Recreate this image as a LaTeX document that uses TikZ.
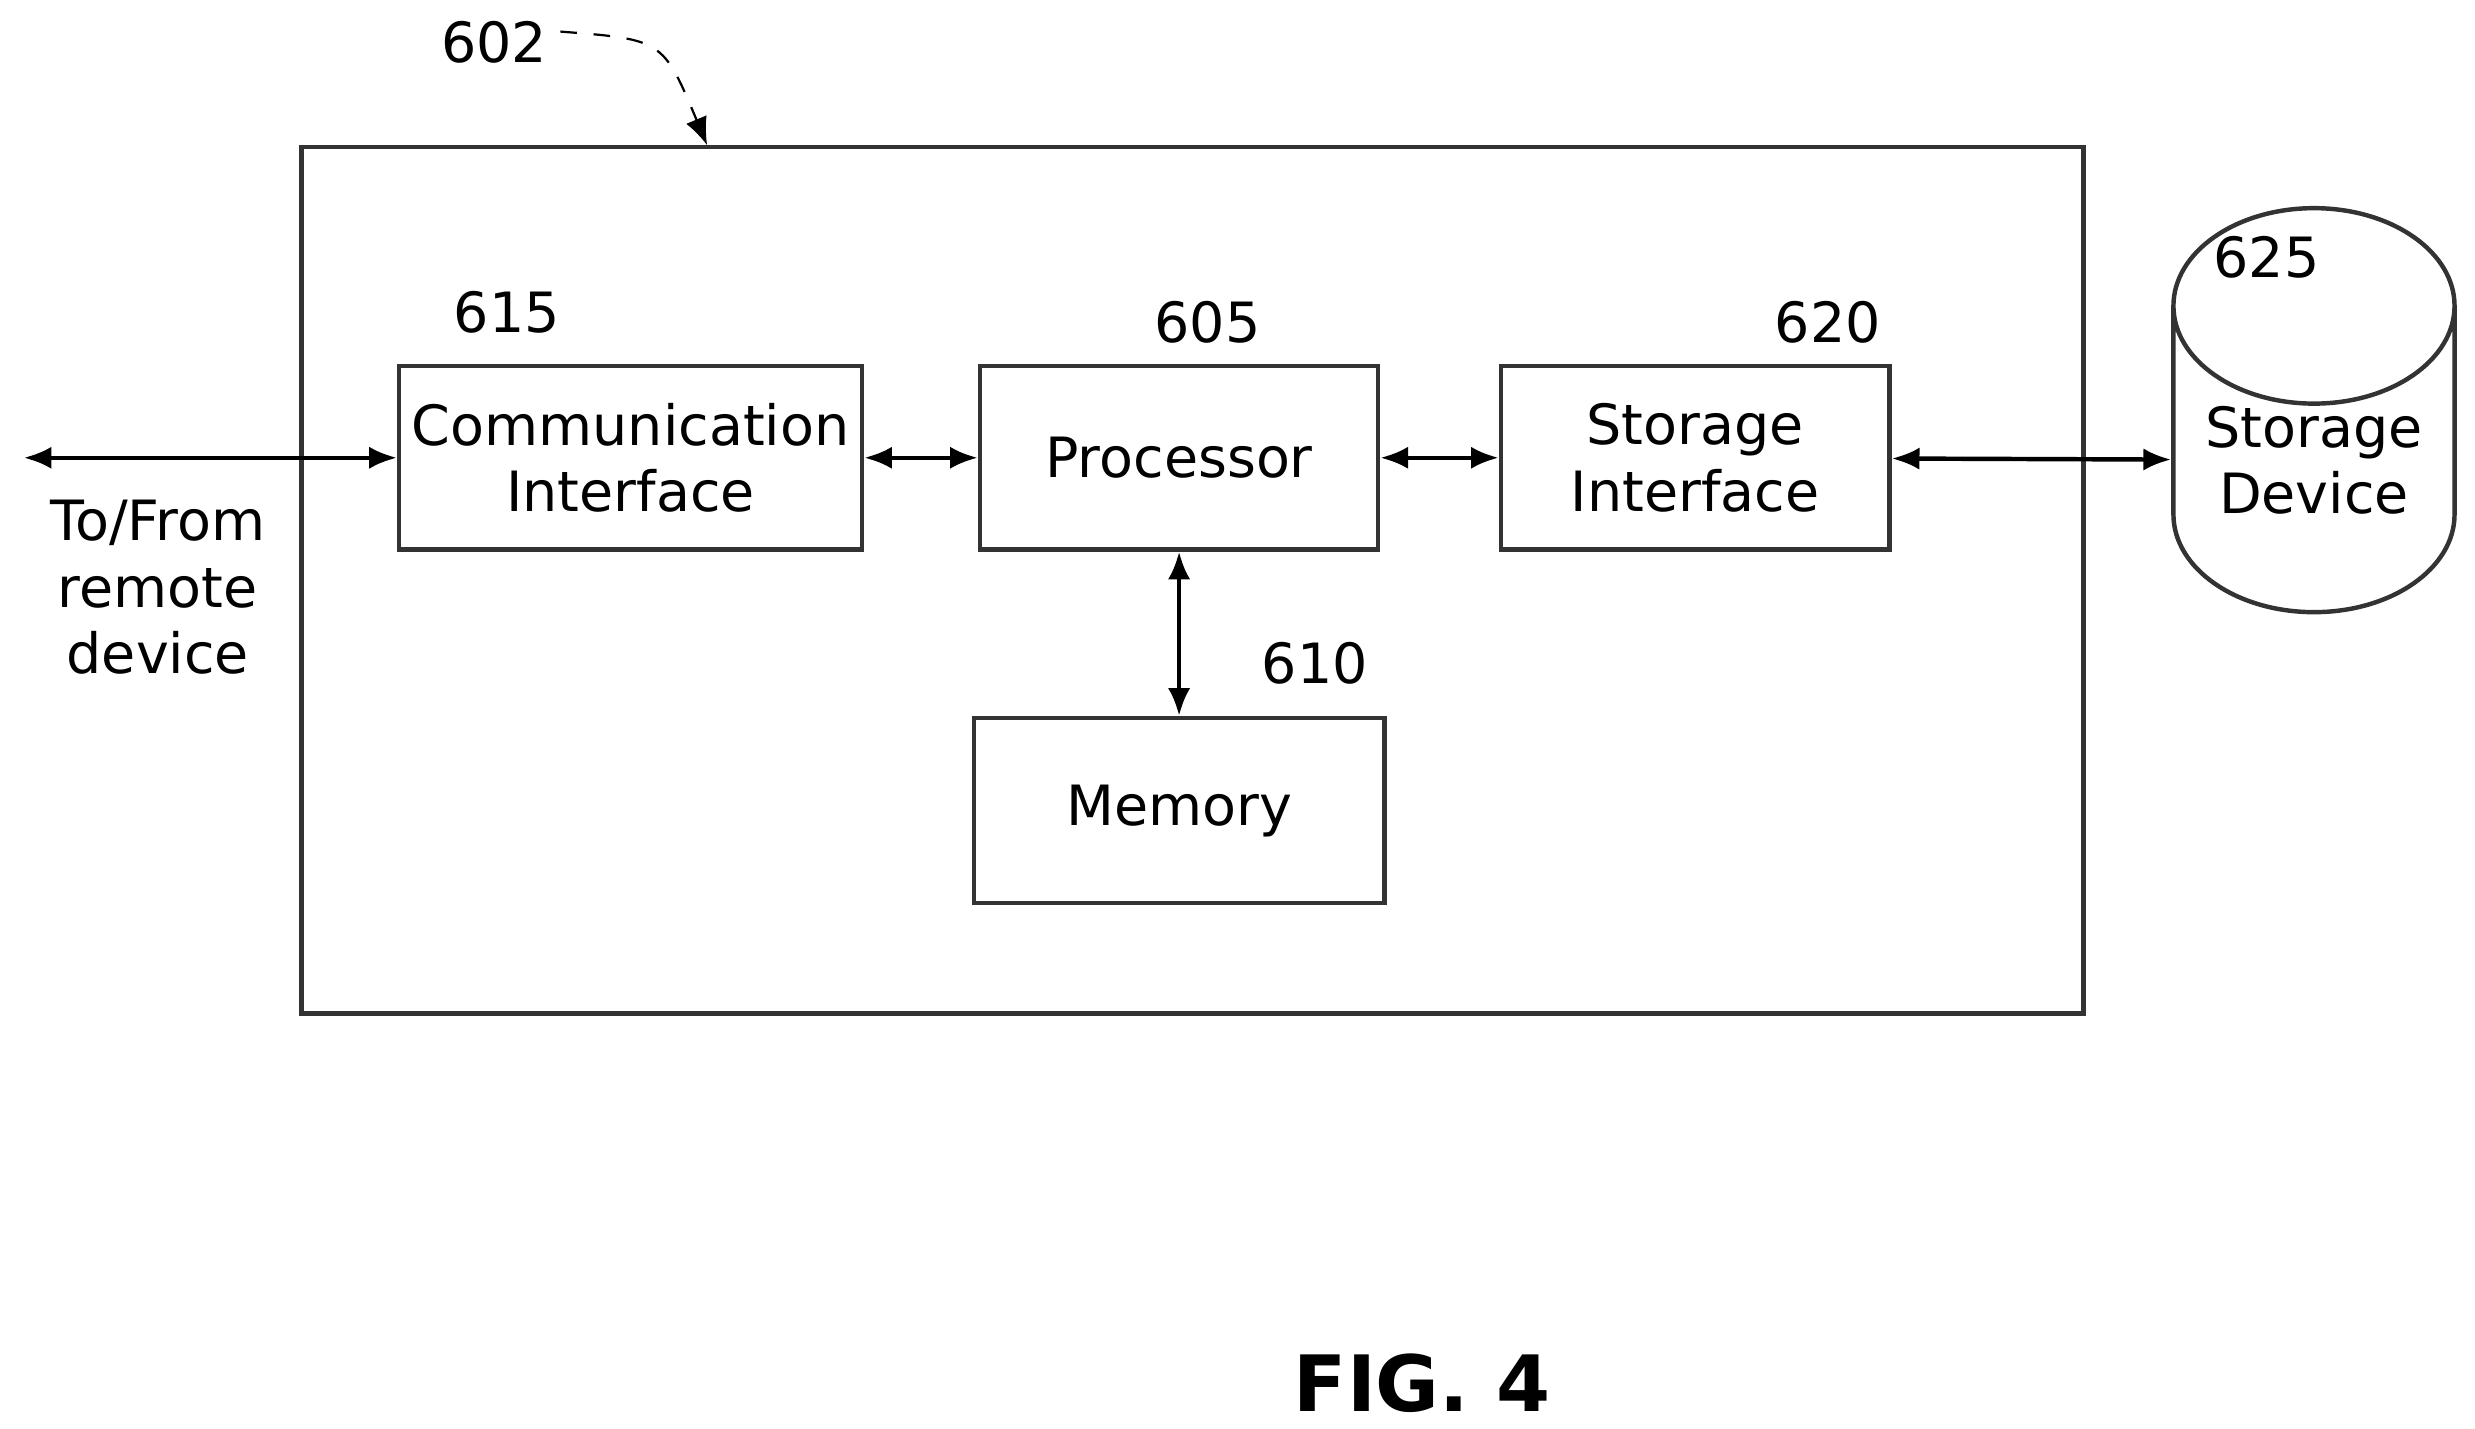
\documentclass[tikz,border=0pt]{standalone}
\usepackage{fontspec}
\setmainfont{DejaVu Sans}
\usetikzlibrary{arrows.meta,shapes.geometric}

\tikzset{
  blk/.style={draw, thick, gray!40!black, text=black, align=center, font=\fontsize{10}{12}\selectfont, inner sep=0pt},
  lbl/.style={font=\fontsize{10}{12}\selectfont},
  link/.style={thick, {Latex[length=5pt,width=4pt]}-{Latex[length=5pt,width=4pt]}}
}

\begin{document}
\begin{tikzpicture}[x=0.01cm, y=-0.01cm]
  \useasboundingbox (0,0) rectangle (1568,905);
  % outer device
  \draw[thick, gray!40!black] (191,93) rectangle (1320,642);
  \node[lbl] (n602) at (313,27) {602};
  \coordinate (top) at (448,92);
  \draw[dashed, -{Latex[length=5pt,width=4pt]}] (355,20) .. controls (420,25) .. (top);

  % blocks
  \node[blk, minimum width=293\pgflinewidth, text width=2.8cm, minimum width=2.93cm, minimum height=1.16cm] (comm) at (399.5,290) {Communication\\Interface};
  \node[blk, minimum width=2.52cm, minimum height=1.16cm] (proc) at (747,290) {Processor};
  \node[blk, minimum width=2.46cm, minimum height=1.16cm] (stor) at (1074,290) {Storage\\Interface};
  \node[blk, minimum width=2.60cm, minimum height=1.17cm] (mem) at (747,513.5) {Memory};
  \node[blk, cylinder, shape border rotate=90, shape aspect=0.9, minimum width=1.78cm, minimum height=1.93cm] (disk) at (1466,291.5) {Storage\\Device};

  % numbers
  \node[lbl] (n615) at (321,198) {615};
  \node[lbl] (n605) at (765,204) {605};
  \node[lbl] (n620) at (1158,204) {620};
  \node[lbl] (n610) at (833,420) {610};
  \node[lbl] (n625) at (1436,163) {625};

  % links
  \coordinate (remote) at (15,290);
  \draw[link] (remote) -- (comm);
  \draw[link] (comm) -- (proc);
  \draw[link] (proc) -- (stor);
  \draw[link] (stor) -- (disk);
  \draw[link] (proc) -- (mem);
  \node[lbl, align=center] (rtxt) at (100,372) {To/From\\remote\\device};

  \node[font=\bfseries\fontsize{14}{16}\selectfont] (fig) at (901,876) {FIG. 4};
\end{tikzpicture}
\end{document}
